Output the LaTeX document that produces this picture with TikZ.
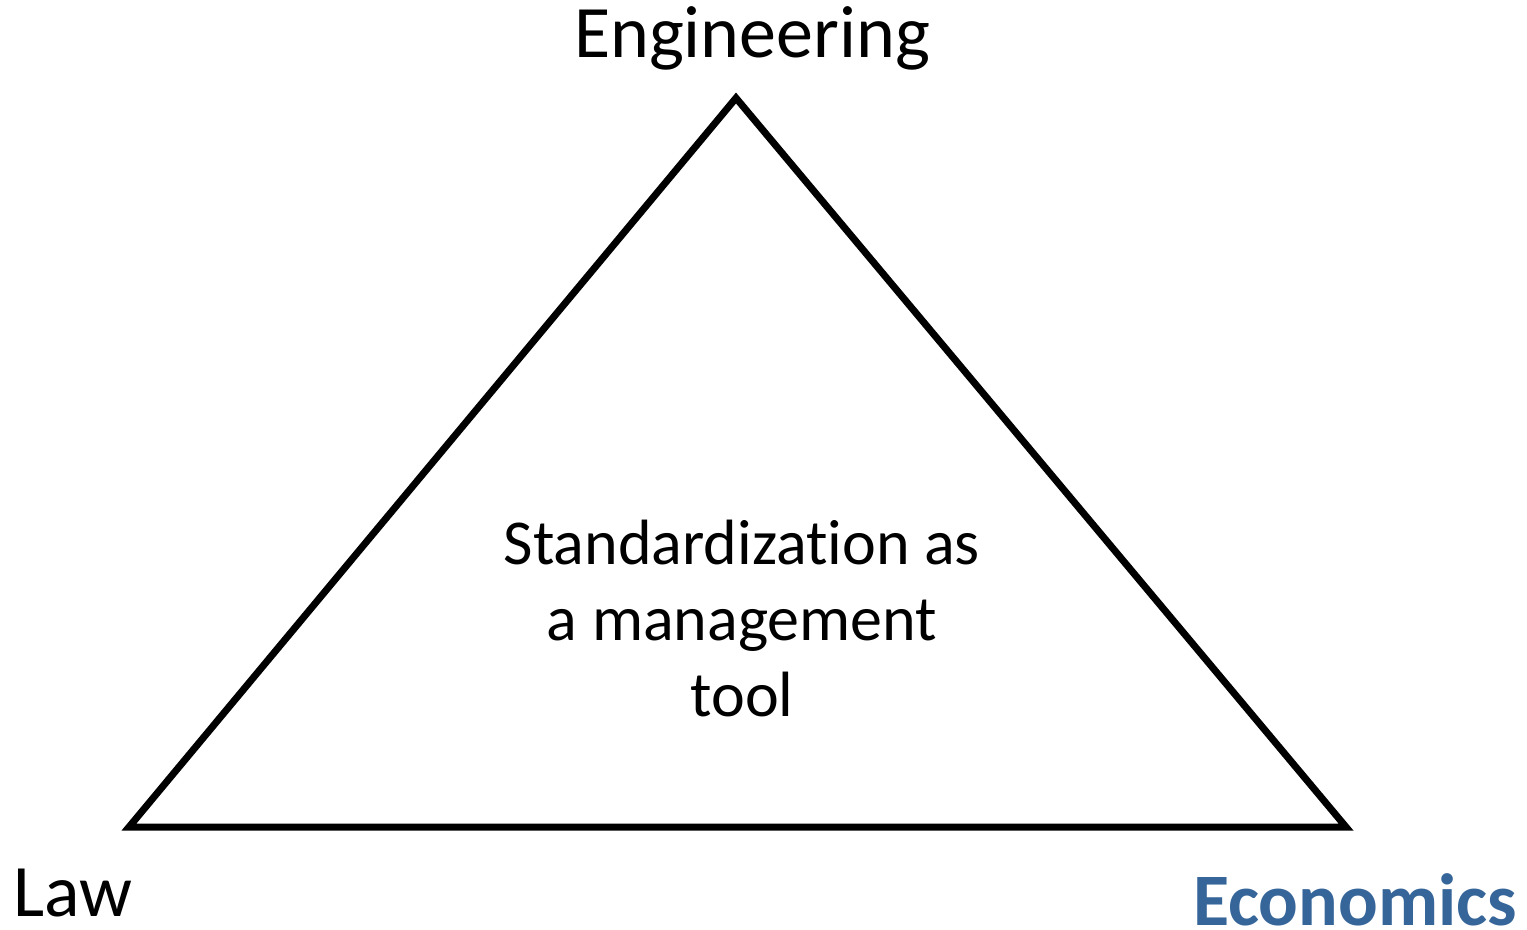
\documentclass[tikz,border=0pt]{standalone}
\usepackage{fontspec}
\setmainfont[Ligatures=NoCommon]{Carlito}
\usepackage{tikz}
\usetikzlibrary{positioning,calc}
\definecolor{econblue}{RGB}{54,101,153}

\begin{document}
\begin{tikzpicture}[x=0.5pt, y=-0.5pt, line join=miter]
\tikzstyle{field}=[inner sep=0pt, anchor=base, text=black, font=\fontsize{37pt}{44pt}\selectfont]
\tikzstyle{side}=[draw=black, line width=3.5pt]
\useasboundingbox (0,0) rectangle (1527,930);
\coordinate (T) at (736,98);
\coordinate (L) at (129,827);
\coordinate (R) at (1346,827);
\draw[side] (T) -- (L) -- (R) -- cycle;
\node[field]    (E) at (752,58)      {Engineering};
\node[field, text depth=0pt]    (W) at (73,916)      {Law};
\node[field, text depth=0pt, text=econblue, font=\fontsize{37pt}{44pt}\selectfont\bfseries]
                (C) at (1355,925)    {Economics};
\node[field, align=center, font=\fontsize{32pt}{38pt}\selectfont]
                (S) at (742,716)     {Standardization as\\a management\\tool};
\end{tikzpicture}
\end{document}
